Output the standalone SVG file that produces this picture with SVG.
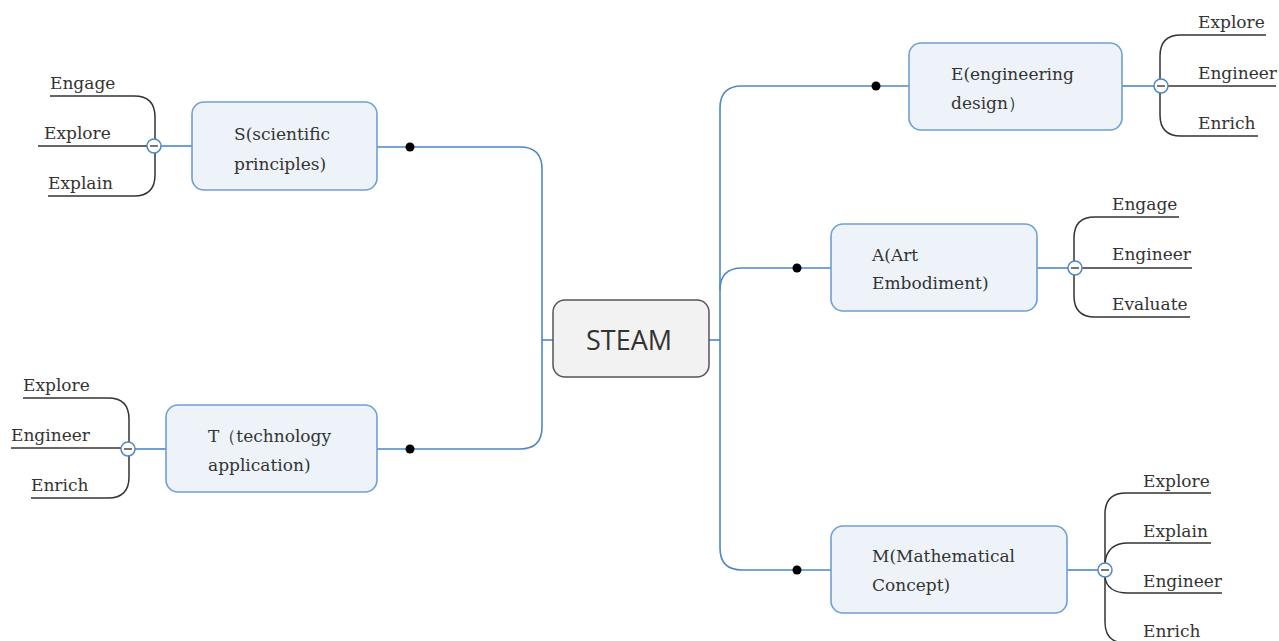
<svg xmlns="http://www.w3.org/2000/svg" width="1279" height="641" viewBox="0 0 1279 641">
<style>
.node rect{fill:#eef3fa;stroke:#6f9fd3;stroke-width:1.6}
.lbl{font-family:"DejaVu Serif","Liberation Serif",serif;font-size:17px;fill:#333}
.leaf{font-family:"DejaVu Serif","Liberation Serif",serif;font-size:17px;fill:#333}
.conn{fill:none;stroke:#4f87c6;stroke-width:1.6}
.lline{fill:none;stroke:#333;stroke-width:1.5}
.dot{fill:#000}
.tog circle{fill:#fff;stroke:#4f87c6;stroke-width:1.5}
.tog line{stroke:#555;stroke-width:1.6}
</style>
<rect width="1279" height="641" fill="#fff"/>
<g id="connectors">
<path class="conn" d="M377 147 L520 147 Q542 147 542 169 L542 427 Q542 449 520 449 L377 449"/>
<path class="conn" d="M542 340 L553 340"/>
<path class="conn" d="M709 340 L720 340"/>
<path class="conn" d="M909 86 L742 86 Q720 86 720 108 L720 548 Q720 570 742 570 L831 570"/>
<path class="conn" d="M720 290 Q720 268 742 268 L831 268"/>
<circle class="dot" cx="410" cy="147" r="4.5"/>
<circle class="dot" cx="410" cy="449" r="4.5"/>
<circle class="dot" cx="876" cy="86" r="4.5"/>
<circle class="dot" cx="797" cy="268" r="4.5"/>
<circle class="dot" cx="797" cy="570" r="4.5"/>
<!-- S leaves -->
<path class="conn" d="M161 146 L192 146"/>
<path class="lline" d="M50 96 L134 96 Q155 96 155 117 L155 175 Q155 196 134 196 L48 196"/>
<path class="lline" d="M38 146 L147 146"/>
<!-- T leaves -->
<path class="conn" d="M135 449 L166 449"/>
<path class="lline" d="M23 398 L108 398 Q129 398 129 419 L129 477 Q129 498 108 498 L31 498"/>
<path class="lline" d="M11 448 L121 448"/>
<!-- E leaves -->
<path class="conn" d="M1122 86 L1154 86"/>
<path class="lline" d="M1266 35 L1181 35 Q1160 35 1160 56 L1160 115 Q1160 136 1181 136 L1258 136"/>
<path class="lline" d="M1168 86 L1276 86"/>
<!-- A leaves -->
<path class="conn" d="M1037 268 L1068 268"/>
<path class="lline" d="M1179 217 L1095 217 Q1074 217 1074 238 L1074 296 Q1074 317 1095 317 L1190 317"/>
<path class="lline" d="M1082 268 L1192 268"/>
<!-- M leaves -->
<path class="conn" d="M1067 570 L1098 570"/>
<path class="lline" d="M1211 493 L1126 493 Q1105 493 1105 514 L1105 622 Q1105 643 1126 643 L1200 643"/>
<path class="lline" d="M1105 563 Q1107 543 1128 543 L1211 543"/>
<path class="lline" d="M1105 577 Q1107 593 1128 593 L1222 593"/>
</g>
<g class="tog" id="tog-S"><circle cx="154" cy="146" r="7"/><line x1="150" y1="146" x2="158" y2="146"/></g>
<g class="tog" id="tog-T"><circle cx="128" cy="449" r="7"/><line x1="124" y1="449" x2="132" y2="449"/></g>
<g class="tog" id="tog-E"><circle cx="1161" cy="86" r="7"/><line x1="1157" y1="86" x2="1165" y2="86"/></g>
<g class="tog" id="tog-A"><circle cx="1075" cy="268" r="7"/><line x1="1071" y1="268" x2="1079" y2="268"/></g>
<g class="tog" id="tog-M"><circle cx="1105" cy="570" r="7"/><line x1="1101" y1="570" x2="1109" y2="570"/></g>

<g id="steam">
<rect x="553" y="300" width="156" height="77" rx="12" fill="#f2f2f2" stroke="#555" stroke-width="1.5"/>
<text x="629" y="350" text-anchor="middle" font-family="Open Sans, Noto Sans, sans-serif" font-size="27" fill="#333">STEAM</text>
</g>
<g id="node-S" class="node">
<rect x="192" y="102" width="185" height="88" rx="12"/>
<text class="lbl" x="234" y="140">S(scientific</text>
<text class="lbl" x="234" y="170">principles)</text>
</g>
<g id="node-T" class="node">
<rect x="166" y="405" width="211" height="87" rx="12"/>
<text class="lbl" x="208" y="442">T（technology</text>
<text class="lbl" x="208" y="471">application)</text>
</g>
<g id="node-E" class="node">
<rect x="909" y="43" width="213" height="87" rx="12"/>
<text class="lbl" x="951" y="80">E(engineering</text>
<text class="lbl" x="951" y="109">design）</text>
</g>
<g id="node-A" class="node">
<rect x="831" y="224" width="206" height="87" rx="12"/>
<text class="lbl" x="872" y="261">A(Art</text>
<text class="lbl" x="872" y="289">Embodiment)</text>
</g>
<g id="node-M" class="node">
<rect x="831" y="526" width="236" height="87" rx="12"/>
<text class="lbl" x="872" y="562">M(Mathematical</text>
<text class="lbl" x="872" y="591">Concept)</text>
</g>

<g id="leaves-S">
<text class="leaf" x="50" y="89">Engage</text>
<text class="leaf" x="44" y="139">Explore</text>
<text class="leaf" x="48" y="189">Explain</text>
</g>
<g id="leaves-T">
<text class="leaf" x="23" y="391">Explore</text>
<text class="leaf" x="11" y="441">Engineer</text>
<text class="leaf" x="31" y="491">Enrich</text>
</g>
<g id="leaves-E">
<text class="leaf" x="1198" y="28">Explore</text>
<text class="leaf" x="1198" y="79">Engineer</text>
<text class="leaf" x="1198" y="129">Enrich</text>
</g>
<g id="leaves-A">
<text class="leaf" x="1112" y="210">Engage</text>
<text class="leaf" x="1112" y="260">Engineer</text>
<text class="leaf" x="1112" y="310">Evaluate</text>
</g>
<g id="leaves-M">
<text class="leaf" x="1143" y="487">Explore</text>
<text class="leaf" x="1143" y="537">Explain</text>
<text class="leaf" x="1143" y="587">Engineer</text>
<text class="leaf" x="1143" y="637">Enrich</text>
</g>
</svg>
